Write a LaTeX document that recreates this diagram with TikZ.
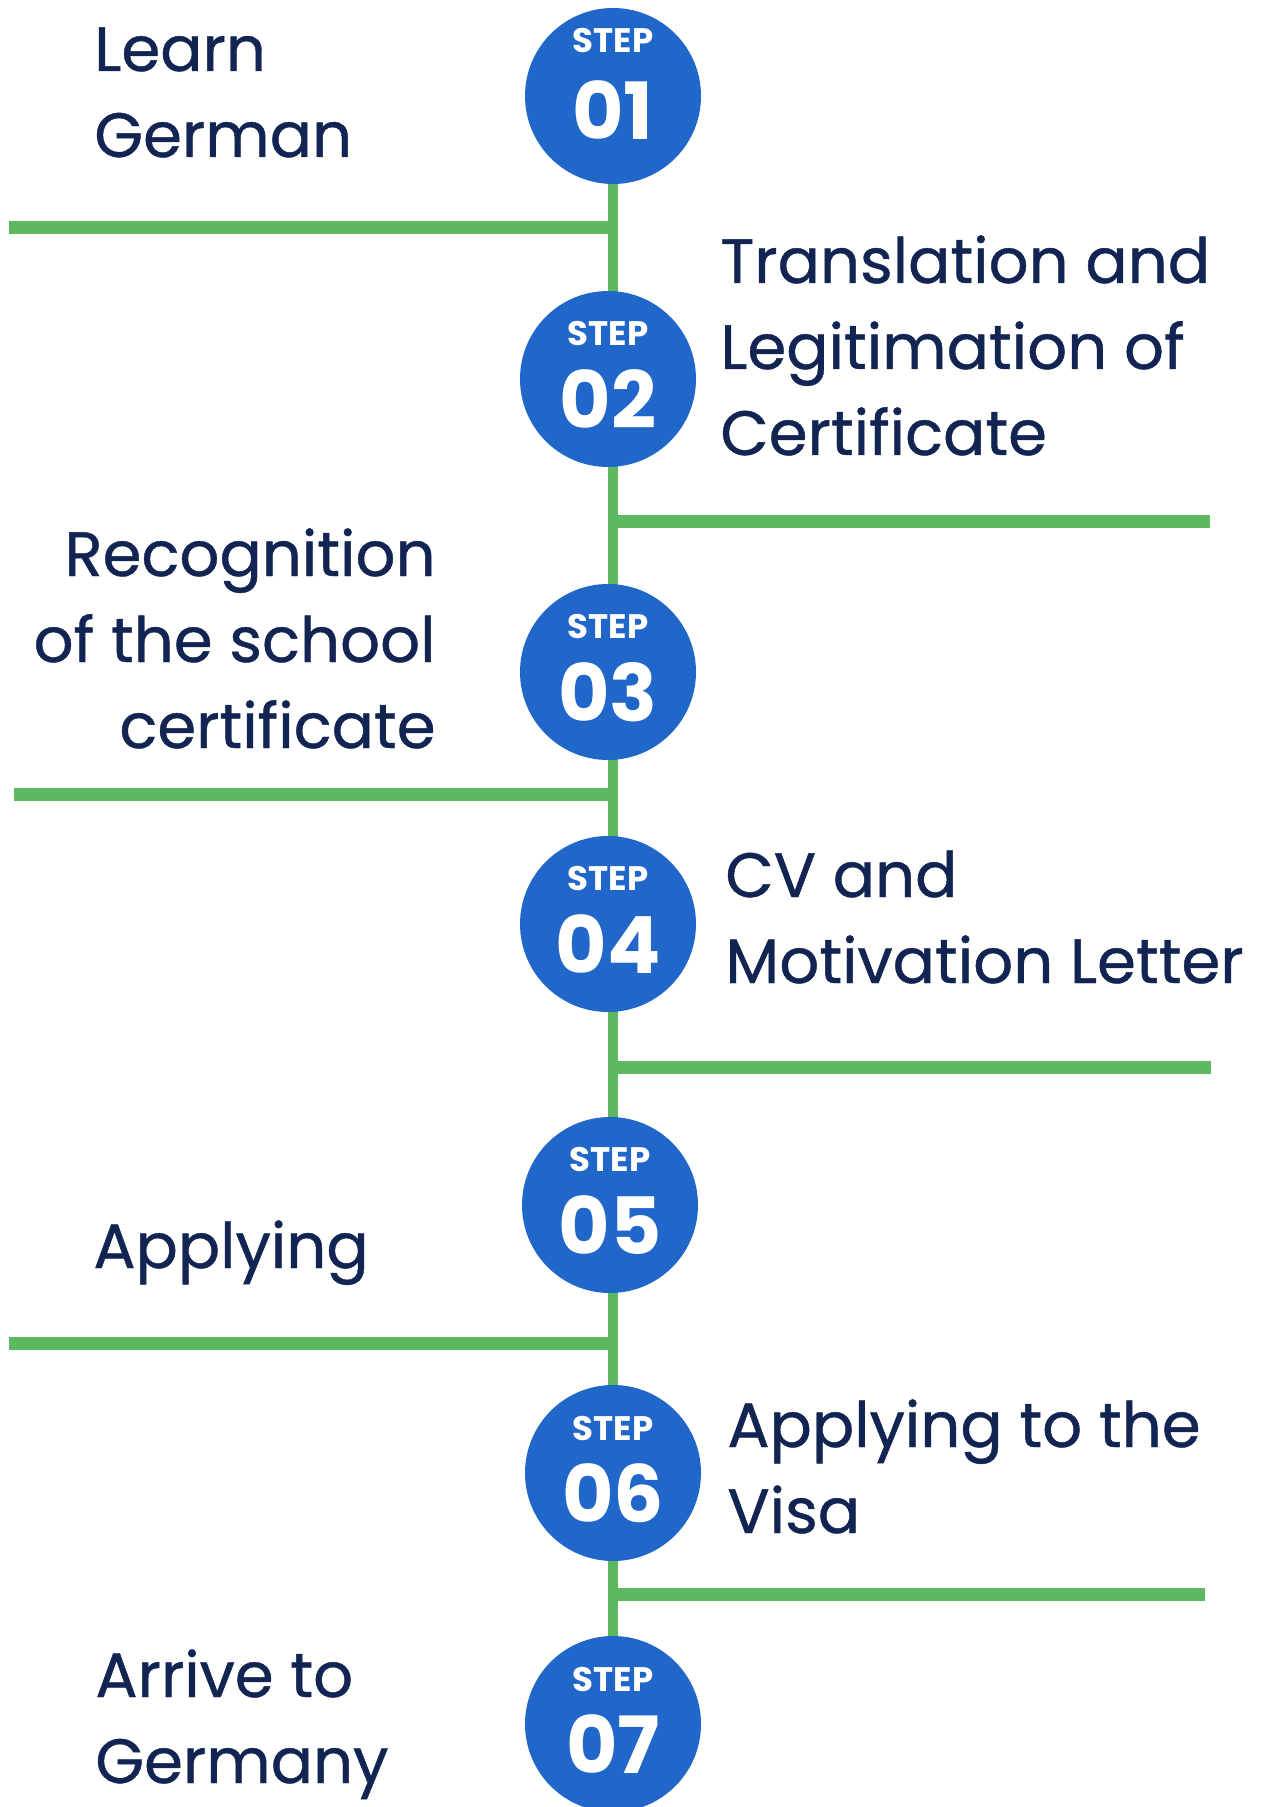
\documentclass[tikz,border=0pt]{standalone}
\usepackage{fontspec}
\setmainfont{Poppins}
\newfontfamily\capfont[FakeBold=0.7]{Poppins}
\usetikzlibrary{backgrounds}
\definecolor{stepblue}{RGB}{33,102,201}
\definecolor{railgreen}{RGB}{92,185,96}
\definecolor{inkblue}{RGB}{18,36,82}

\begin{document}
\begin{tikzpicture}[x=0.5pt,y=-0.5pt]
\tikzstyle{stepdot}=[circle,fill=stepblue,minimum size=88pt,inner sep=0pt]
\tikzstyle{stepword}=[text=white,font=\bfseries\fontsize{17}{17}\selectfont,inner sep=0pt,yshift=22.5pt]
\tikzstyle{stepnum}=[text=white,font=\bfseries\fontsize{39.5}{40}\selectfont,inner sep=0pt,yshift=-10pt]
\tikzstyle{caption}=[text=inkblue,font=\capfont\fontsize{31.3}{43}\selectfont,inner sep=0pt,align=left,anchor=base west]
\tikzstyle{rail}=[railgreen,line width=5pt]
\tikzstyle{branch}=[railgreen,line width=6.5pt]

\useasboundingbox (0,0) rectangle (1262,1807);
\clip (0,0) rectangle (1262,1807);

% the steps
\node[stepdot,label={[stepword,yshift=5pt]center:STEP},label={[stepnum,yshift=3pt]center:01}] (s1) at (613,96) {};
\node[stepdot,label={[stepword]center:STEP},label={[stepnum]center:02}] (s2) at (608,379) {};
\node[stepdot,label={[stepword]center:STEP},label={[stepnum]center:03}] (s3) at (608,672) {};
\node[stepdot,label={[stepword]center:STEP},label={[stepnum]center:04}] (s4) at (608,924) {};
\node[stepdot,label={[stepword]center:STEP},label={[stepnum]center:05}] (s5) at (610,1205) {};
\node[stepdot,label={[stepword]center:STEP},label={[stepnum]center:06}] (s6) at (613,1473) {};
\node[stepdot,label={[stepword]center:STEP},label={[stepnum]center:07}] (s7) at (613,1724) {};

% texts (placed by the baseline of their last line)
\node[caption] (t1) at (94,157) {Learn\\German};
\node[caption] (t2) at (720,455) {Translation and\\Legitimation of\\Certificate};
\node[caption,align=right,anchor=base east] (t3) at (436,748) {Recognition\\of the school\\certificate};
\node[caption] (t4) at (725,983) {CV and\\Motivation Letter};
\node[caption] (t5) at (93,1268) {Applying};
\node[caption] (t6) at (727,1533) {Applying to the\\Visa};
\node[caption] (t7) at (95,1783) {Arrive to\\Germany};

% green rail and branches
\coordinate (b1) at (9,228);
\coordinate (b2) at (1210,522);
\coordinate (b3) at (14,794);
\coordinate (b4) at (1211,1067);
\coordinate (b5) at (9,1343);
\coordinate (b6) at (1205,1594);
\begin{scope}[on background layer]
\draw[rail] (s1) -- (s7);
\draw[branch] (b1) -- (b1 -| s1);
\draw[branch] (b2) -- (b2 -| s2);
\draw[branch] (b3) -- (b3 -| s3);
\draw[branch] (b4) -- (b4 -| s4);
\draw[branch] (b5) -- (b5 -| s5);
\draw[branch] (b6) -- (b6 -| s6);
\end{scope}
\end{tikzpicture}
\end{document}
